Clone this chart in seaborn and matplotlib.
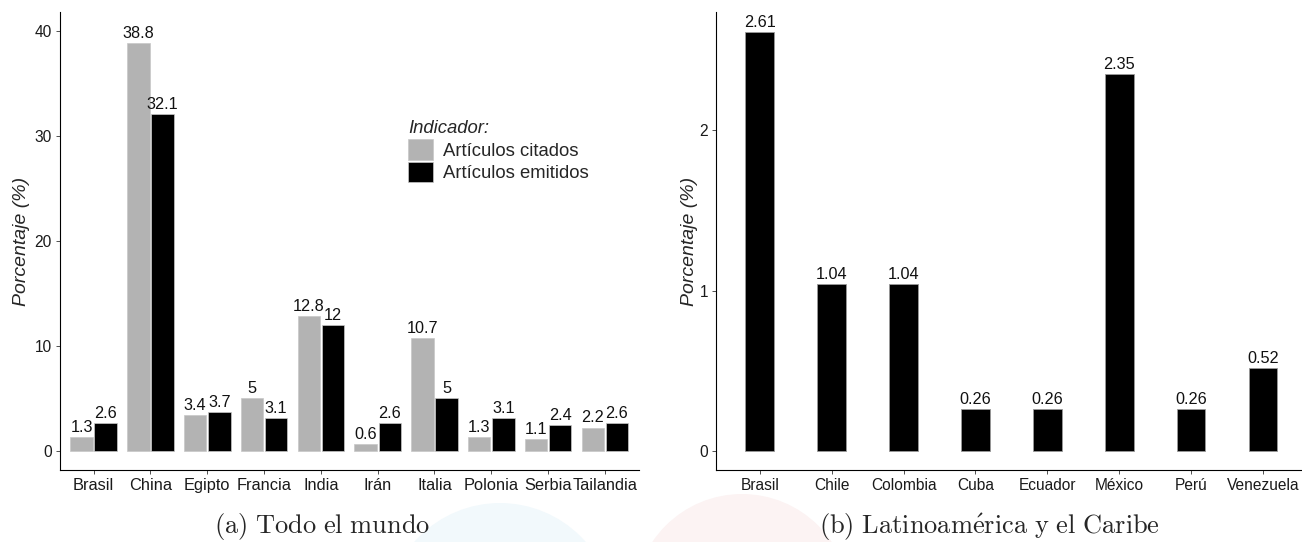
import matplotlib
matplotlib.use("Agg")
import matplotlib.pyplot as plt
from matplotlib.patches import Circle
import pandas as pd
import seaborn as sns

# (a) Todo el mundo
paises = ["Brasil", "China", "Egipto", "Francia", "India",
          "Irán", "Italia", "Polonia", "Serbia", "Tailandia"]
citados = [1.3, 38.8, 3.4, 5, 12.8, 0.6, 10.7, 1.3, 1.1, 2.2]
emitidos = [2.6, 32.1, 3.7, 3.1, 12, 2.6, 5, 3.1, 2.4, 2.6]
indicadores = ["Artículos citados", "Artículos emitidos"]

# (b) Latinoamérica y el Caribe
paises_latam = ["Brasil", "Chile", "Colombia", "Cuba", "Ecuador",
                "México", "Perú", "Venezuela"]
porcentaje_latam = [2.61, 1.04, 1.04, 0.26, 0.26, 2.35, 0.26, 0.52]

sns.set_style("ticks")
plt.rcParams["font.family"] = ["Liberation Sans", "DejaVu Sans"]
plt.rcParams["mathtext.fontset"] = "cm"

mundo = pd.DataFrame({
    "pais": paises * 2,
    "valor": citados + emitidos,
    "indicador": [indicadores[0]] * len(paises) + [indicadores[1]] * len(paises),
})
latam = pd.DataFrame({"pais": paises_latam, "valor": porcentaje_latam})

fig = plt.figure(figsize=(13.02, 5.42), dpi=100)

# faint background discs from the source page
fig.patches.append(Circle((5.00, -0.75), 1.14, transform=fig.dpi_scale_trans,
                          facecolor="#f2f9fc", edgecolor="none", zorder=-5))
fig.patches.append(Circle((7.42, -0.60), 1.08, transform=fig.dpi_scale_trans,
                          facecolor="#fcf3f3", edgecolor="none", zorder=-5))

ax1 = fig.add_axes([59.5 / 1302, 72 / 542, 579.5 / 1302, 458 / 542])
ax2 = fig.add_axes([716 / 1302, 72 / 542, 590 / 1302, 458 / 542])

sns.barplot(data=mundo, x="pais", y="valor", hue="indicador",
            palette=["#b3b3b3", "black"], saturation=1, errorbar=None,
            width=0.85, gap=0.07, edgecolor="#c8c8c8", linewidth=0.5, ax=ax1)
for cont, vals in zip(ax1.containers, [citados, emitidos]):
    ax1.bar_label(cont, labels=[f"{v:g}" for v in vals], padding=1.5,
                  fontsize=11.7, color="#111111")

sns.barplot(data=latam, x="pais", y="valor", color="black", saturation=1,
            errorbar=None, width=0.4, edgecolor="#9a9a9a", linewidth=0.6, ax=ax2)
ax2.bar_label(ax2.containers[0], labels=[f"{v:g}" for v in porcentaje_latam],
              padding=1.5, fontsize=11.7, color="#111111")

ax1.set_xlim(-0.6, 9.6)
ax1.set_ylim(-1.85, 41.8)
ax1.set_yticks([0, 10, 20, 30, 40])
ax2.set_xlim(-0.61, 7.6)
ax2.set_ylim(-0.118, 2.736)
ax2.set_yticks([0, 1, 2])

for ax, xsize, lpad in [(ax1, 11.8, 3), (ax2, 11.2, 1)]:
    ax.set_facecolor("none")
    sns.despine(ax=ax)
    for side in ["left", "bottom"]:
        ax.spines[side].set_linewidth(0.8)
        ax.spines[side].set_color("black")
    ax.tick_params(axis="both", length=3, width=0.6, color="#333333",
                   labelcolor="#1a1a1a", pad=2.5)
    ax.tick_params(axis="x", labelsize=xsize)
    ax.tick_params(axis="y", labelsize=11.2)
    ax.set_xlabel("")
    ax.set_ylabel("Porcentaje (%)", fontsize=14, fontstyle="italic", labelpad=lpad)

handles, labels = ax1.get_legend_handles_labels()
ax1.legend(handles, labels, title="Indicador:", loc="upper left",
           bbox_to_anchor=(399 / 1302, 1 - 111 / 542),
           bbox_transform=fig.transFigure, frameon=False, fontsize=13.3,
           title_fontproperties={"style": "italic", "size": 13.3},
           handlelength=1.35, handleheight=1.35, labelspacing=0.1,
           handletextpad=0.55, borderpad=0, alignment="left")

fig.text(322.5 / 1302, 1 - 527 / 542, r"$\mathrm{(a)\ Todo\ el\ mundo}$",
         fontsize=19, ha="center", va="center")
fig.text(989 / 1302, 1 - 527 / 542,
         r"$\mathrm{(b)\ Latinoam\acute{e}rica\ y\ el\ Caribe}$",
         fontsize=19, ha="center", va="center")

fig.savefig("out.png", dpi=100)
